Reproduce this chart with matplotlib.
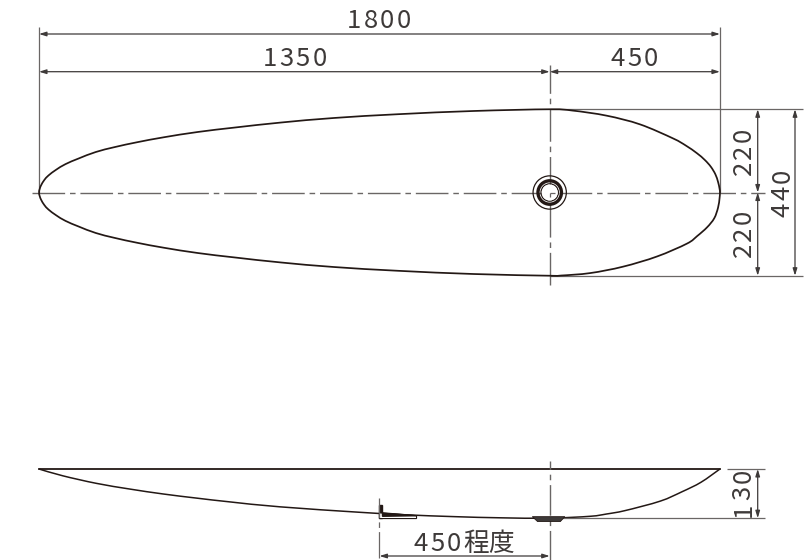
import matplotlib
matplotlib.use("Agg")
import numpy as np
import matplotlib.pyplot as plt
from matplotlib.patches import Circle, Polygon, PathPatch
from matplotlib.path import Path

plt.rcParams['font.family'] = ['Noto Sans CJK JP', 'DejaVu Sans']
plt.rcParams['lines.scale_dashes'] = False

# everything is in mm, plan view centred on y = 0
total_len = 1800
long_len = 1350
short_len = 450
half_w = 220
full_w = 440
height = 130

# basin outline (left to right)
left_x = [0, 2, 6, 14, 25, 45, 70, 105, 150, 200, 260, 330, 420, 520, 640, 780, 950, 1150, 1350]
left_y = [0, 10, 20, 33, 45, 60, 75, 90, 107, 120, 133, 146, 160, 172, 185, 197, 207, 215.5, 220]
upper_x = [1411, 1501, 1589, 1676, 1710, 1739, 1760, 1776, 1788, 1795, 1799, 1800]
upper_y = [216.5, 203, 180, 143, 124, 104, 86, 68, 48, 28, 10, 0]
lower_x = [1380, 1457, 1544, 1634, 1713, 1740, 1766, 1785, 1795, 1799]
lower_y = [-219.5, -213, -196, -169, -135, -115, -92, -68, -40, -15]

# side view underside, depth below the rim
side_x = [0, 63, 152, 240, 328, 417, 505, 637, 849, 967, 1100, 1219, 1348, 1457, 1500, 1549, 1642, 1700, 1750, 1800]
side_d = [0, 18, 38, 53, 66, 77, 87, 100, 114.5, 121, 126, 129, 130, 125, 119, 110, 85, 60, 35, 0]

drain_r = [44, 31, 23]
drain_lw = [0.9, 2.4, 0.9]

dim_col = '#6a6665'
line_col = '#231815'
txt_col = '#3e3a39'
px = 0.3783  # px per mm
W, H = 811, 560
x0, yc = 39, 192.5
rim_y = -(469 - yc) / px
base_y = rim_y - height
mid = long_len
fs = 18.5


def X(p):
    return (p - x0) / px


def Y(p):
    return (yc - p) / px


fig = plt.figure(figsize=(W / 100, H / 100), dpi=100)
ax = fig.add_axes([0, 0, 1, 1])
ax.set_xlim(X(0), X(W))
ax.set_ylim(Y(H), Y(0))
ax.axis('off')


def smooth(xs, ys, closed=False, **kw):
    # catmull-rom through the read points, as bezier path
    p = np.column_stack([xs, ys]).astype(float)
    n = len(p)
    verts = [p[0]]
    codes = [Path.MOVETO]
    for i in range(n - 1):
        a = p[i - 1] if i > 0 else (p[-2] if closed else p[0])
        d = p[i + 2] if i + 2 < n else (p[1] if closed else p[-1])
        verts += [p[i] + (p[i + 1] - a) / 6, p[i + 1] - (d - p[i]) / 6, p[i + 1]]
        codes += [Path.CURVE4] * 3
    ax.add_patch(PathPatch(Path(verts, codes), fill=False, **kw))


def ln(xs, ys, lw=0.9, col=dim_col, **kw):
    ax.plot(xs, ys, color=col, lw=lw, solid_capstyle='butt', **kw)


def arrow(a, b):
    # dimension line with small arrowheads at both ends
    ax.annotate('', xy=a, xytext=b, arrowprops=dict(arrowstyle='<|-|>,head_length=0.42,head_width=0.13',
                color='#3e3a39', lw=0.9, shrinkA=0, shrinkB=0, mutation_scale=10))


def spaced(x, y, s, rot=0, step=44):
    # digits are letterspaced in the drawing
    n = len(s)
    for i, ch in enumerate(s):
        off = (i - (n - 1) / 2) * step
        if rot:
            ax.text(x + 5, y + off, ch, rotation=90, ha='center', va='center', fontsize=fs, color=txt_col)
        else:
            ax.text(x + off, y - 5, ch, ha='center', va='center', fontsize=fs, color=txt_col)


# plan view outline
loop_x = left_x + upper_x + lower_x[::-1] + left_x[::-1]
loop_y = left_y + upper_y + lower_y[::-1] + [-v for v in left_y[::-1]]
smooth(loop_x, loop_y, closed=True, ec=line_col, lw=1.25, zorder=3)

# centre lines
cl = (0, (23.5, 3.5, 4, 3.5))
ax.plot([X(32), X(765)], [0, 0], color=dim_col, lw=1.0, linestyle=cl)
ax.plot([mid, mid], [Y(285), Y(65)], color=dim_col, lw=1.0, linestyle=cl)

# drain
for r, lw in zip(drain_r, drain_lw):
    ax.add_patch(Circle((mid, 0), r, fc='none', ec=line_col, lw=lw, zorder=4))
ax.add_patch(Circle((mid, 0), drain_r[2] - 2, fc='white', ec='none', zorder=4))
ln([mid, mid + 14], [0, 0], zorder=5)
ln([mid, mid], [0, -12], zorder=5)

# extension lines
ln([0, 0], [Y(27), 0])
ln([total_len, total_len], [Y(27), 0])
ln([mid, X(803)], [half_w, half_w])
ln([mid, X(803)], [-half_w, -half_w])

# upper dimensions
arrow((0, Y(34)), (total_len, Y(34)))
arrow((0, Y(71.7)), (mid, Y(71.7)))
arrow((mid, Y(71.7)), (mid + short_len, Y(71.7)))
spaced(X(379), Y(19.5), str(total_len))
spaced(X(294.5), Y(57.5), str(long_len))
spaced(X(634), Y(57.5), str(short_len))

# right dimensions
arrow((X(757.7), half_w), (X(757.7), 0))
arrow((X(757.7), 0), (X(757.7), -half_w))
arrow((X(795), half_w), (X(795), -half_w))
spaced(X(742), Y(151.7), str(half_w), rot=1)
spaced(X(742), Y(233.7), str(half_w), rot=1)
spaced(X(780.7), Y(193), str(full_w), rot=1)

# side view
ax.plot([0, total_len], [rim_y, rim_y], color=line_col, lw=1.3)
smooth(side_x, rim_y - np.array(side_d), ec=line_col, lw=1.1)

# bracket under the bowl and the waste fitting
lx = mid - short_len
ax.add_patch(Polygon([(lx, rim_y - 95), (lx + 8, rim_y - 95), (lx + 8, rim_y - 130), (lx, rim_y - 130)], color=line_col))
ax.add_patch(Polygon([(lx, rim_y - 116), (lx + 98, rim_y - 123.5), (lx + 98, rim_y - 131), (lx, rim_y - 131)],
                     fc='white', ec=line_col, lw=0.8))
ax.add_patch(Polygon([(lx + 8, rim_y - 116), (lx + 98, rim_y - 123.5), (lx + 8, rim_y - 125)], color=line_col))
ax.add_patch(Polygon([(mid - 46, rim_y - 126), (mid + 40, rim_y - 126), (mid + 28, rim_y - 139), (mid - 32, rim_y - 139)],
                     fc='#3e3a39', ec=line_col, lw=0.6, zorder=3))

ax.plot([mid, mid], [Y(561), Y(461)], color=dim_col, lw=1.0, linestyle=(0, (22, 3.5, 4, 3.5)))
ax.plot([lx, lx], [Y(558), Y(498)], color=dim_col, lw=0.9, linestyle=(0, (19, 3, 4, 3)))

# 130 and 450 dimensions
ln([X(727), X(765)], [rim_y, rim_y])
ln([mid, X(765)], [base_y, base_y])
arrow((X(757.7), rim_y), (X(757.7), base_y))
spaced(X(741.7), Y(493), str(height), rot=1)

arrow((lx, Y(556)), (mid, Y(556)))
spaced(X(437.5), Y(541.7), str(short_len))
spaced(X(488.5), Y(541.7), '程度', step=65)

fig.savefig('out.png', dpi=100)
